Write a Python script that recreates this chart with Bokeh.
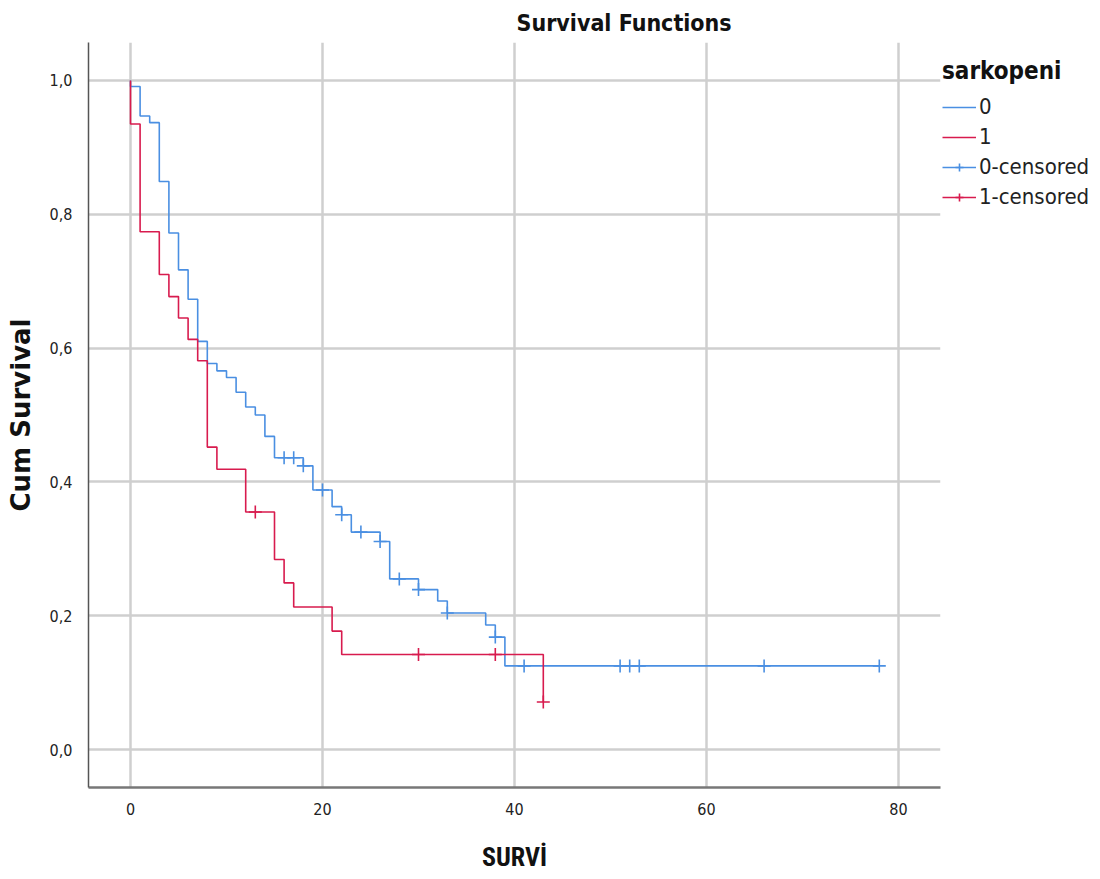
import numpy as np
from bokeh.plotting import figure
from bokeh.models import (ColumnDataSource, FixedTicker, CustomJSTickFormatter,
                          Legend, LegendItem, Range1d)
from bokeh.embed import file_html
from bokeh.resources import INLINE

# ---- data (Kaplan-Meier steps) ----
# sarkopeni = 0
time0 = [0, 0, 1, 2, 3, 4, 5, 6, 7, 8, 9, 10, 11, 12, 13, 14, 15, 18, 19, 21,
         22, 23, 26, 27, 30, 32, 33, 37, 38, 39, 78]
surv0 = [1.0, 0.991, 0.947, 0.937, 0.849, 0.772, 0.717, 0.673, 0.610, 0.577,
         0.566, 0.556, 0.534, 0.512, 0.500, 0.468, 0.436, 0.424, 0.388, 0.363,
         0.351, 0.325, 0.311, 0.255, 0.239, 0.222, 0.204, 0.186, 0.168, 0.125,
         0.125]
cens0 = [16, 17, 18, 20, 22, 24, 26, 28, 30, 33, 38, 41, 51, 52, 53, 66, 78]

# sarkopeni = 1
time1 = [0, 0, 1, 3, 4, 5, 6, 7, 8, 9, 12, 15, 16, 17, 21, 22, 43]
surv1 = [1.0, 0.935, 0.774, 0.710, 0.677, 0.645, 0.613, 0.581, 0.452, 0.419,
         0.355, 0.284, 0.249, 0.213, 0.177, 0.142, 0.071]
cens1 = [13, 30, 38, 43]

x_ticks = [0, 20, 40, 60, 80]
y_ticks = [0.0, 0.2, 0.4, 0.6, 0.8, 1.0]

BLUE = "#4a8fe2"
RED = "#d81b4e"
COND = "DejaVu Sans Condensed"


def censor_y(times, surv, cens):
    t = np.asarray(times, dtype=float)
    idx = np.searchsorted(t, np.asarray(cens, dtype=float), side="right") - 1
    return [surv[i] for i in idx]


p = figure(frame_width=852, frame_height=745,
           x_range=Range1d(-4.375, 84.375), y_range=Range1d(-0.0568, 1.0568),
           output_backend="svg", toolbar_location=None,
           min_border_left=88, min_border_top=42, min_border_bottom=90,
           min_border_right=150, title="Survival Functions")
p.outline_line_color = None
p.background_fill_color = "white"

p.title.align = "left"
p.title.offset = 428
p.title.standoff = 13
p.title.text_font = COND
p.title.text_font_size = "23px"
p.title.text_font_style = "bold"
p.title.text_color = "#111111"

# grid
p.xgrid.ticker = FixedTicker(ticks=x_ticks)
p.ygrid.ticker = FixedTicker(ticks=y_ticks)
for g in (p.xgrid, p.ygrid):
    g.grid_line_color = "#cfcfcf"
    g.grid_line_width = 2.5

# axes
p.xaxis.ticker = FixedTicker(ticks=x_ticks)
p.yaxis.ticker = FixedTicker(ticks=y_ticks)
p.yaxis.formatter = CustomJSTickFormatter(
    code="return tick.toFixed(1).replace('.', ',');")
for ax in (p.xaxis, p.yaxis):
    ax.major_tick_line_color = None
    ax.minor_tick_line_color = None
    ax.major_label_text_font = COND
    ax.major_label_text_font_size = "16px"
    ax.major_label_text_color = "#222222"
    ax.axis_label_text_font_style = "bold"
    ax.axis_label_text_color = "#111111"
p.xaxis.axis_line_color = "#777777"
p.xaxis.axis_line_width = 2.5
p.yaxis.axis_line_color = "#555555"
p.yaxis.axis_line_width = 1.5
p.xaxis.major_label_standoff = 9
p.yaxis.major_label_standoff = 10
p.xaxis.axis_label = "SURVİ"
p.xaxis.axis_label_text_font = "Roboto Condensed"
p.xaxis.axis_label_text_font_size = "26px"
p.xaxis.axis_label_standoff = 24
p.yaxis.axis_label = "Cum Survival"
p.yaxis.axis_label_text_font = "DejaVu Sans"
p.yaxis.axis_label_text_font_size = "26px"
p.yaxis.axis_label_standoff = 11

# curves
src0 = ColumnDataSource(dict(x=time0, y=surv0))
src1 = ColumnDataSource(dict(x=time1, y=surv1))
l0 = p.step("x", "y", source=src0, mode="after", line_color=BLUE, line_width=1.6)
l1 = p.step("x", "y", source=src1, mode="after", line_color=RED, line_width=1.6)

csrc0 = ColumnDataSource(dict(x=cens0, y=censor_y(time0, surv0, cens0)))
csrc1 = ColumnDataSource(dict(x=cens1, y=censor_y(time1, surv1, cens1)))
m0 = p.scatter("x", "y", source=csrc0, marker="cross", size=13,
               line_color=BLUE, line_width=1.6)
m1 = p.scatter("x", "y", source=csrc1, marker="cross", size=13,
               line_color=RED, line_width=1.6)

legend = Legend(items=[
    LegendItem(label="0", renderers=[l0]),
    LegendItem(label="1", renderers=[l1]),
    LegendItem(label="0-censored", renderers=[l0, m0]),
    LegendItem(label="1-censored", renderers=[l1, m1]),
], location=(2, 578))
legend.title = "sarkopeni"
legend.title_text_font = COND
legend.title_text_font_size = "24px"
legend.title_text_font_style = "bold"
legend.title_text_color = "#111111"
legend.title_standoff = 9
legend.label_text_font = COND
legend.label_text_font_size = "22px"
legend.label_text_color = "#222222"
legend.label_standoff = 3
legend.glyph_width = 34
legend.glyph_height = 20
legend.label_height = 20
legend.spacing = 5
legend.margin = 0
legend.padding = 0
legend.border_line_color = None
legend.background_fill_alpha = 0
p.add_layout(legend, "right")

open("out.html", "w").write(file_html(p, INLINE))
